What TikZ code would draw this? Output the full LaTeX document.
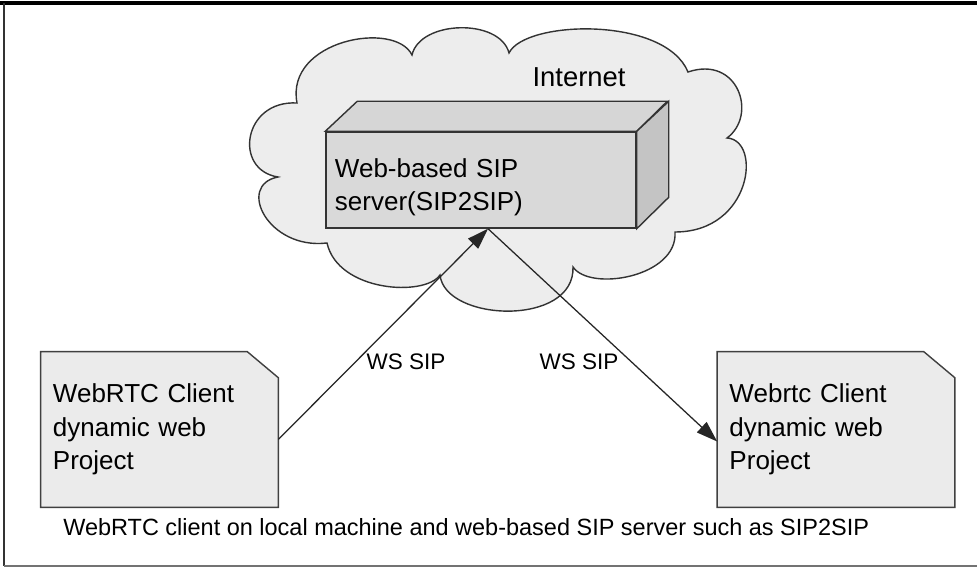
\documentclass[tikz,border=0pt]{standalone}
\usepackage{fontspec}
\setmainfont{Liberation Sans}
\usetikzlibrary{arrows.meta,backgrounds}

\begin{document}
\begin{tikzpicture}[x=0.025cm, y=-0.025cm,
  bigtext/.style={font=\fontsize{18.5}{24}\selectfont},
  client/.style={minimum width=5.925cm, minimum height=3.875cm, inner xsep=0.3cm, inner ysep=0pt, text width=5.325cm, align=left, bigtext},
  clientshape/.style={fill=black!8, draw=black!75, line width=1pt},
  face/.style={draw=black!80, line width=1pt},
  link/.style={line width=0.9pt, black!85, -{Triangle[length=15pt,width=10pt]}}]
\useasboundingbox (0,0) rectangle (977,569);

% cloud
\draw[fill=black!7, draw=black!80, line width=1pt]
  (297,103) .. controls (285,40) and (395,20) .. (412,55)
  .. controls (420,20) and (500,18) .. (509,53)
  .. controls (525,20) and (665,16) .. (688,72)
  .. controls (738,55) and (758,115) .. (727,138)
  .. controls (762,140) and (752,232) .. (675,232)
  .. controls (678,277) and (590,292) .. (573,267)
  .. controls (575,327) and (445,322) .. (440,275)
  .. controls (425,297) and (338,292) .. (327,243)
  .. controls (268,250) and (236,185) .. (278,177)
  .. controls (233,170) and (243,100) .. cycle;
\node[font=\fontsize{19.5}{24}\selectfont] (internet) at (579,77) {Internet};

% server box
\node[face, fill=black!15, minimum width=7.75cm, minimum height=2.4cm, inner xsep=0.225cm,
  text width=7.3cm, align=left, font=\fontsize{18.5}{23.5}\selectfont] (server) at (481,180)
  {\rule{0pt}{23.5pt}Web-based SIP\\ server(SIP2SIP)};
\draw[face, fill=black!16] (server.north west) -- ++(32,-30) -- ++(310,0) -- (server.north east) -- cycle;
\draw[face, fill=black!23] (server.north east) -- ++(32,-30) -- ++(0,96) -- (server.south east) -- cycle;

% clients
\node[client] (webclient) at (159.5,429.5) {WebRTC Client\\ dynamic web\\ Project};
\node[client] (rtcclient) at (836,429.5) {Webrtc Client\\ dynamic web\\ Project};
\begin{scope}[on background layer]
\fill[white] (0,0) rectangle (977,569);
\foreach \c in {webclient, rtcclient}
  \draw[clientshape] (\c.south west) -- (\c.north west) -- ([shift={(-31,0)}]\c.north east)
    -- ([shift={(0,26)}]\c.north east) -- (\c.south east) -- cycle;
\end{scope}

% links
\draw[link] ([shift={(0,10)}]webclient.east) -- ([shift={(7,0)}]server.south);
\draw[link] ([shift={(7,0)}]server.south) -- ([shift={(0,12)}]rtcclient.west);
\node[font=\fontsize{16}{20}\selectfont] (wsleft) at (406,362) {WS SIP};
\node[font=\fontsize{16}{20}\selectfont] (wsright) at (579,362) {WS SIP};

% caption and frame
\node[anchor=base west, inner sep=0pt, font=\fontsize{16.7}{20}\selectfont] (caption) at (63,535)
  {WebRTC client on local machine and web-based SIP server such as SIP2SIP};
\draw[black, line width=3pt] (0,3) -- (977,3);
\draw[black!80, line width=1.2pt] (4,3) -- (4,566);
\draw[black!55, line width=1.2pt] (4,566) -- (977,566);
\end{tikzpicture}
\end{document}
